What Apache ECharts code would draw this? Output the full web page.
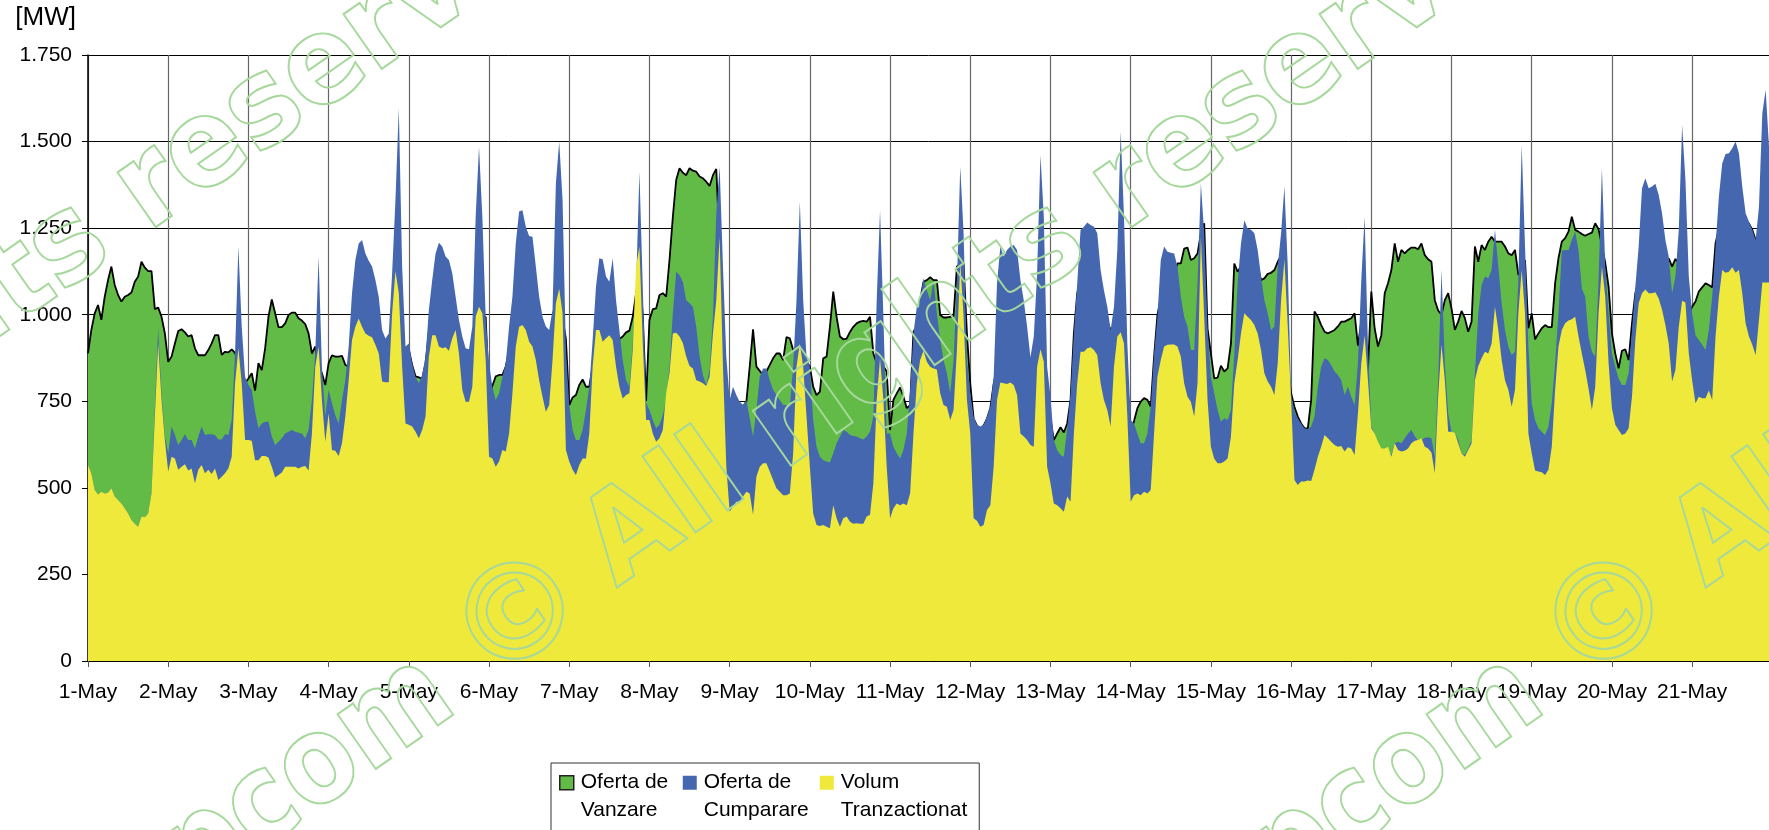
<!DOCTYPE html>
<html><head><meta charset="utf-8">
<style>html,body{margin:0;padding:0;background:#fff}#c{width:1769px;height:830px}</style>
<script src="https://cdn.jsdelivr.net/npm/echarts@6/dist/echarts.min.js"></script>
</head><body><div id="c"></div>
<script>
var dayLabels = ['1-May','2-May','3-May','4-May','5-May','6-May','7-May','8-May','9-May','10-May','11-May','12-May','13-May','14-May','15-May','16-May','17-May','18-May','19-May','20-May','21-May'];
var yTicks = [0,250,500,750,1000,1250,1500,1750];

var ofertaVanzare = [
888,956,1004,1028,985,1052,1100,1139,1086,1057,1038,1052,1057,1064,1095,1110,1153,1136,1126,1126,1016,1021,994,946,
864,879,917,953,958,949,937,941,903,883,883,883,898,917,941,941,884,893,891,900,890,860,836,802,
816,831,781,860,840,903,994,1044,1004,964,964,975,999,1006,1006,990,983,973,946,888,908,850,831,797,
860,883,879,879,881,855,850,850,900,950,1000,1000,950,900,900,880,850,820,800,850,900,850,880,905,
900,855,822,819,815,860,950,970,1000,1000,1000,1000,1000,1000,1000,950,900,880,880,880,950,980,990,994,
765,795,822,826,826,850,900,950,980,1000,1000,1000,1000,1000,1000,980,960,950,940,960,980,990,990,930,
739,761,768,797,813,792,792,850,900,930,930,930,930,930,930,930,937,949,954,994,1062,1120,1000,751,
985,1016,1018,1057,1062,1052,1158,1283,1389,1423,1410,1403,1423,1416,1413,1399,1394,1384,1372,1403,1421,1200,900,760,
749,750,745,740,735,749,850,958,850,838,826,836,855,874,888,888,869,935,932,898,888,879,869,865,
850,792,768,778,874,879,965,1067,994,937,929,931,950,965,975,980,982,980,994,888,860,850,851,836,
667,754,773,790,763,730,739,951,966,1042,1095,1100,1108,1100,1100,999,992,992,994,996,1139,1148,1148,946,
800,700,680,670,680,700,730,800,850,1000,1000,1000,1000,1000,1000,950,900,860,850,850,880,950,900,730,
700,638,657,675,660,686,754,946,1062,1100,1100,1100,1100,1100,1100,1050,1000,980,956,950,1000,1050,1000,800,
657,693,730,749,759,754,735,879,999,1050,1100,1100,1100,1120,1148,1148,1191,1194,1158,1163,1177,1235,1264,960,
888,816,818,853,836,845,917,1148,1124,1140,1150,1150,1150,1150,1140,1100,1105,1118,1121,1129,1153,1170,1100,850,
773,734,706,686,672,672,754,1009,994,970,951,946,951,956,966,980,980,985,990,1004,911,980,917,840,
1067,961,908,941,1062,1091,1129,1206,1153,1187,1177,1187,1194,1194,1189,1206,1172,1160,1153,1042,1012,1000,1042,1062,
1018,956,980,1011,990,951,980,1197,1153,1201,1187,1211,1225,1211,1211,1211,1197,1177,1172,1187,1115,1130,1158,961,
1004,929,946,961,970,964,964,1091,1163,1211,1221,1240,1283,1245,1240,1233,1228,1233,1237,1264,1247,1200,1150,1081,
946,888,845,896,900,869,975,1062,1100,1150,1170,1170,1170,1150,1150,1100,1100,1163,1139,1161,1148,1200,1100,1000,
1023,1038,1067,1079,1091,1086,1079,1206,1250,1250,1250,1250,1250,1250,1250,1250,1264,1264,1245,1216,1200,1250,1250,1200
];

var ofertaCumparare = [
566,542,494,481,489,484,486,499,475,465,455,441,426,407,396,388,417,415,426,484,730,960,770,650,
600,677,653,624,638,655,638,638,614,648,677,653,655,655,653,640,640,655,653,696,888,1197,966,821,
797,783,720,672,686,691,691,648,624,633,643,657,662,667,662,659,657,643,667,754,888,1168,850,706,
783,744,710,686,754,811,908,1062,1158,1206,1216,1177,1156,1139,1100,1052,956,931,946,1120,1331,1596,1139,908,
917,860,821,802,826,879,1014,1100,1177,1208,1197,1168,1158,1120,1052,985,937,903,900,966,1283,1485,1283,994,
860,792,754,773,821,860,966,1052,1206,1298,1302,1254,1227,1225,1139,1052,994,966,956,1014,1379,1500,1331,898,
739,667,638,638,667,725,792,927,1081,1163,1160,1110,1095,1163,1042,956,869,811,792,917,1081,1413,1081,745,
725,696,672,682,710,754,850,1004,1124,1115,1095,1042,1033,1023,965,879,826,797,840,994,1293,1428,1139,879,
754,792,768,749,739,754,701,648,725,821,845,845,811,783,768,754,739,739,735,850,1042,1327,1042,879,
850,696,619,590,580,576,573,600,629,648,667,662,653,650,648,643,640,648,662,706,1042,1302,994,657,
657,619,600,585,609,657,783,946,1023,1042,1105,1071,1042,1100,1004,927,869,831,773,869,1091,1428,1235,869,
773,706,682,677,682,706,735,821,1091,1197,1168,1187,1197,1201,1187,1100,1042,966,877,937,1120,1461,1283,850,
763,638,609,595,590,672,773,946,1091,1245,1254,1266,1259,1254,1235,1129,1071,1023,956,1023,1187,1529,1283,917,
696,686,657,629,629,657,735,888,994,1158,1197,1182,1179,1177,1139,1052,994,966,898,898,1091,1379,1235,965,
821,773,725,691,701,696,725,888,1091,1206,1273,1249,1245,1235,1187,1110,1042,1004,956,966,1139,1235,1370,1139,
773,720,701,686,672,670,677,706,792,850,874,869,855,836,826,811,768,792,763,739,860,1100,1283,908,
677,657,629,609,609,609,595,629,633,629,643,657,667,650,636,638,645,646,643,590,811,1129,860,715,
662,659,638,600,595,614,638,831,1004,1086,1110,1105,1129,1245,1139,1033,956,908,884,893,1100,1490,1197,908,
744,696,672,662,653,677,744,860,1004,1185,1187,1187,1216,1240,1187,1076,1052,937,893,879,1100,1423,1139,1004,
888,850,816,797,797,831,956,1081,1197,1365,1394,1365,1370,1378,1346,1293,1216,1168,1062,1110,1245,1548,1389,1110,
1004,941,927,913,898,956,1052,1197,1341,1437,1464,1466,1481,1500,1466,1370,1293,1269,1245,1216,1312,1582,1649,1485
];

var volumTranzactionat = [
566,542,494,481,489,484,486,499,475,465,455,441,426,407,396,388,417,415,426,484,706,917,754,638,
547,590,585,552,561,568,550,556,513,552,566,542,552,540,556,523,532,542,556,590,802,903,802,638,
638,636,580,580,592,592,588,561,530,537,544,561,561,561,561,556,561,563,550,657,850,908,754,633,
715,609,607,592,629,706,811,927,965,989,965,946,939,935,913,888,807,805,805,1004,1126,1062,850,686,
682,677,662,643,667,706,879,941,941,908,903,906,896,932,956,888,783,749,749,792,994,1023,1004,869,
590,585,561,576,609,605,657,773,908,965,970,956,922,908,869,811,763,720,739,869,1033,1075,1004,609,
576,552,537,566,585,585,657,850,956,956,922,932,941,927,850,792,758,768,773,898,1139,1197,917,696,
696,657,633,643,667,773,831,946,948,937,918,879,852,845,811,807,802,794,821,946,1042,1225,850,561,
431,446,460,460,475,489,484,422,532,561,571,571,547,523,499,489,479,479,484,600,850,917,850,706,
561,426,393,390,393,388,383,450,412,388,412,417,402,396,398,396,396,417,422,513,754,874,754,561,
412,441,455,450,455,450,484,657,802,869,896,864,850,845,842,773,739,734,696,725,898,1151,994,754,
657,412,405,388,393,436,450,561,754,804,802,800,804,797,768,657,648,638,624,619,850,900,864,561,
513,455,450,441,431,475,460,657,802,893,893,903,906,898,884,802,754,725,677,850,937,949,917,706,
460,479,484,479,489,484,494,657,821,869,908,913,914,914,908,879,802,763,749,706,802,1225,994,754,
619,584,571,571,576,585,648,802,869,946,1004,994,985,970,946,898,831,807,792,768,860,1042,1160,965,
754,523,508,518,518,521,520,552,590,619,653,643,633,624,619,621,605,617,614,595,715,860,941,811,
672,657,633,614,614,619,590,629,609,605,607,614,629,636,638,643,619,614,602,542,763,913,811,662,
662,659,629,600,590,609,629,811,852,874,893,888,917,1023,956,869,811,783,734,783,1004,1129,1004,657,
600,550,547,545,537,552,619,783,908,956,975,983,987,994,937,888,840,787,725,792,1004,1139,1052,860,
730,682,667,653,657,672,763,927,1033,1062,1073,1062,1062,1065,1047,1014,970,917,807,840,965,1040,1035,888,
811,744,763,759,759,781,754,937,1052,1129,1121,1124,1137,1121,1129,1062,975,937,913,884,985,1093,1093,1093
];

[ofertaVanzare, ofertaCumparare, volumTranzactionat].forEach(function(a,i){
  if(a.length !== 504) throw new Error('series '+i+' length '+a.length);
});

var categories = [];
dayLabels.forEach(function(d){ for(var h=0;h<24;h++) categories.push(d); });

var WM_ANGLE = 35*Math.PI/180;
var WM_STROKE = '#a6d89c';
function wmText(text,x,y,size,align,sx){
  return {type:'text',x:x,y:y,rotation:WM_ANGLE,scaleX:sx,scaleY:1,z:100,silent:true,
    style:{text:text,font:'bold '+size+'px "DejaVu Sans"',fill:'transparent',stroke:WM_STROKE,lineWidth:2,
           textAlign:align,textVerticalAlign:'middle'}};
}
var graphics = [];
[0,1089].forEach(function(dx){
  graphics.push(wmText('©',468+dx,660,133,'left',1));
  graphics.push(wmText('opcom',442+dx,684,122,'right',0.88));
});
[-976,0,1089].forEach(function(dx){
  graphics.push(wmText('All rights reserved',598+dx,562,122,'left',0.925));
});

var ICON_PATH = 'path://M0 7h14v14H0z M0 0h0 M16 55h0';
var chart = echarts.init(document.getElementById('c'),null,{renderer:'canvas'});
var FONT = '"Liberation Sans",Arial,sans-serif';
chart.setOption({
  animation:false,
  backgroundColor:'#fff',
  grid:{left:88,right:-3,top:55,bottom:169,containLabel:false},
  legend:{
    left:551,top:763,orient:'horizontal',
    padding:[5,12,30,8],
    backgroundColor:'#fff',borderColor:'#333',borderWidth:1,borderRadius:0,
    itemWidth:16,itemHeight:55,itemGap:11,
    textStyle:{color:'#000',fontFamily:FONT,fontSize:21,lineHeight:27.6},
    z:50,
    data:[
      {name:'Oferta de\nVanzare',icon:ICON_PATH,itemStyle:{color:'#62bb46',borderColor:'#222',borderWidth:1.5},textStyle:{width:91}},
      {name:'Oferta de\nCumparare',icon:ICON_PATH,itemStyle:{color:'#4567b0',borderWidth:0}},
      {name:'Volum\nTranzactionat',icon:ICON_PATH,itemStyle:{color:'#efe93c',borderWidth:0}}
    ]
  },
  xAxis:{
    type:'category',boundaryGap:false,data:categories,
    axisLine:{show:true,onZero:false,lineStyle:{color:'#000',width:1.5}},
    axisTick:{show:true,interval:23,length:6,lineStyle:{color:'#555',width:1}},
    axisLabel:{show:true,interval:23,margin:21,hideOverlap:false,color:'#000',fontFamily:FONT,fontSize:21},
    splitLine:{show:true,interval:23,lineStyle:{color:'#666',width:1.2}}
  },
  yAxis:{
    type:'value',min:yTicks[0],max:yTicks[yTicks.length-1],interval:250,
    name:'[MW]',nameLocation:'end',nameGap:24,
    nameTextStyle:{color:'#000',fontFamily:FONT,fontSize:26,align:'right',padding:[0,12,0,0]},
    axisLine:{show:true,lineStyle:{color:'#000',width:1.5}},
    axisTick:{show:true,length:6,lineStyle:{color:'#000',width:1}},
    axisLabel:{margin:16,color:'#000',fontFamily:FONT,fontSize:21,
      formatter:function(v){return v>=1000?(v/1000).toFixed(3):String(v);}},
    splitLine:{show:true,lineStyle:{color:'#000',width:1}}
  },
  series:[
    {name:'Oferta de\nVanzare',type:'line',z:2,symbol:'none',showSymbol:false,data:ofertaVanzare,
     lineStyle:{color:'#000',width:1.8},areaStyle:{color:'#62bb46',opacity:1},itemStyle:{color:'#62bb46'},silent:true},
    {name:'Oferta de\nCumparare',type:'line',z:3,symbol:'none',showSymbol:false,data:ofertaCumparare,
     lineStyle:{width:0},areaStyle:{color:'#4567b0',opacity:1},itemStyle:{color:'#4567b0'},silent:true},
    {name:'Volum\nTranzactionat',type:'line',z:4,symbol:'none',showSymbol:false,data:volumTranzactionat,
     lineStyle:{width:0},areaStyle:{color:'#efe93c',opacity:1},itemStyle:{color:'#efe93c'},silent:true}
  ],
  graphic:graphics
});
</script></body></html>
